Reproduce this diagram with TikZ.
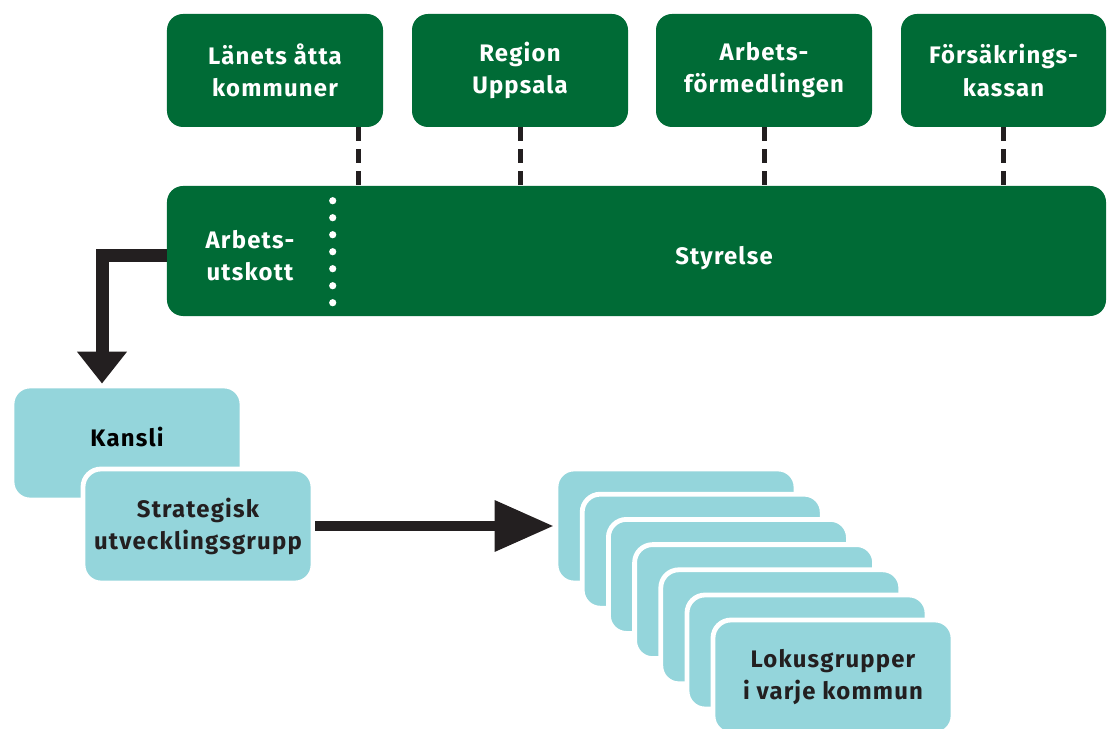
\documentclass[tikz,border=0pt]{standalone}
\usepackage{fontspec}
\setmainfont{Fira Sans}[LetterSpace=5]
\usetikzlibrary{arrows.meta}
\definecolor{styrgreen}{RGB}{0,107,54}
\definecolor{lokblue}{RGB}{148,213,219}
\definecolor{pildark}{RGB}{35,31,32}
\begin{document}
\begin{tikzpicture}[x=0.25mm,y=-0.25mm,font=\fontsize{17}{22.8}\selectfont\bfseries,
	parter/.style={fill=styrgreen,rounded corners=4mm,minimum width=54mm,minimum height=28.25mm,text=white,align=center},
	grupp/.style={fill=lokblue,draw=white,line width=1.2mm,rounded corners=4.5mm,minimum width=57.5mm,minimum height=28.5mm,text=pildark,align=center},
	lokus/.style={grupp,minimum width=60mm},
	streck/.style={pildark,line width=1.25mm,dash pattern=on 3.5mm off 2mm}]
	\useasboundingbox (0,0) rectangle (1108,729);
	% parterna
	\node[parter] (lan) at (275,70.5) {Länets åtta\\kommuner};
	\node[parter] (reg) at (520,70.5) {Region\\Uppsala};
	\node[parter] (af) at (764,70.5) {Arbets-\\förmedlingen};
	\node[parter,minimum width=51.25mm] (fk) at (1003.5,70.5) {Försäkrings-\\kassan};
	% styrelse
	\node[fill=styrgreen,rounded corners=4mm,minimum width=234.75mm,minimum height=32.5mm] (bar) at (636.5,251) {};
	\node[text=white,align=center] (arb) at (250,256) {Arbets-\\utskott};
	\node[text=white] (sty) at (724,258) {Styrelse};
	\coordinate (sep) at ([xshift=41.5mm,yshift=-3.75mm]bar.north west);
	\foreach \k in {0,...,6}\fill[white] ([yshift=-\k*4.25mm]sep) circle (0.9mm);
	\draw[streck] ([xshift=20.75mm]lan.south) -- ([xshift=20.75mm]lan.south |- bar.north);
	\draw[streck] (reg.south) -- (reg.south |- bar.north);
	\draw[streck] (af.south) -- (af.south |- bar.north);
	\draw[streck] (fk.south) -- (fk.south |- bar.north);
	% kansli och strategisk grupp
	\node[grupp] (kansli) at (127,443) {};
	\node at ([yshift=1.5mm]kansli.center) {Kansli};
	\node[grupp] (strat) at (198,526) {Strategisk\\utvecklingsgrupp};
	\coordinate (kin) at ([xshift=-6.25mm]kansli.north);
	\draw[pildark,line width=3.25mm,-{Triangle[width=12mm,length=8mm]}] (bar.west |- arb) -| (kin);
	% lokusgrupper
	\foreach \k in {0,...,5}\node[lokus] (lok\k) at (676+26.2*\k,526+25.2*\k) {};
	\node[lokus] (lok6) at (833,677) {Lokusgrupper\\i varje kommun};
	\draw[pildark,line width=2.5mm,-{Triangle[width=12.25mm,length=14.75mm]}] (strat.east) -- (lok0.west);
\end{tikzpicture}
\end{document}
